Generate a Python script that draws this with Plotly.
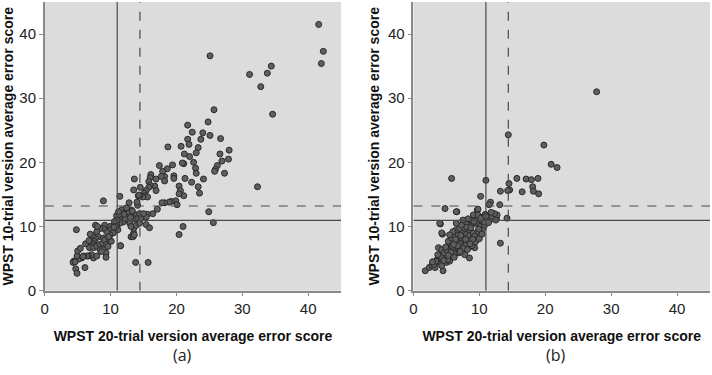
import plotly.graph_objects as go

# ---------------- data ----------------
# Panel (a)
a_x = [41.6, 42.3, 42.0, 25.1, 31.1, 33.8, 34.4, 32.8, 34.6, 25.7, 32.3, 24.8, 25.1, 26.7, 28.0,
       27.9, 26.6, 26.9, 26.2, 25.9, 25.8, 27.3, 21.7, 22.4, 24.0, 21.7, 23.7, 21.9, 20.7, 23.3,
       18.7, 23.0, 22.0, 21.2, 22.6, 22.9, 23.0, 21.1, 20.9, 21.3, 22.3, 24.1, 23.3, 23.5, 19.4,
       18.6, 17.9, 17.4, 19.6, 19.6, 18.2, 18.2, 17.7, 16.9, 16.1, 16.0, 15.8, 16.7, 16.9, 16.0,
       15.8, 15.4, 15.1, 15.2, 15.6, 14.9, 14.4, 13.6, 13.5, 11.4, 20.4, 20.6, 21.1, 20.4, 19.9,
       19.2, 18.9, 18.2, 17.8, 20.1, 17.1, 16.4, 15.6, 14.2, 14.1, 12.8, 15.4, 14.4, 13.6, 20.4,
       21.0, 24.9, 25.6, 13.8, 15.7, 11.5, 8.9, 14.0, 14.5, 14.3, 15.4, 15.9, 13.1, 13.5,
       11.7, 12.5, 13.1, 12.0, 11.4, 10.9, 11.8, 12.6, 13.4, 13.9, 14.4, 13.6, 14.1, 14.6, 12.4,
       11.9, 11.4, 10.9, 10.4, 9.9, 10.1, 10.6, 11.1, 10.4, 9.9, 9.4, 9.1, 8.9, 8.4, 7.9,
       7.7, 8.1, 7.7, 7.5, 7.3, 7.1, 6.9, 6.8, 7.4, 7.9, 8.4, 8.8, 8.9, 9.1, 8.6,
       8.4, 8.9, 9.4, 9.6, 9.9, 10.1, 9.3, 9.3, 7.4, 7.1, 6.6, 6.4, 5.9, 5.6, 5.1,
       4.9, 4.4, 4.3, 4.6, 5.0, 4.7, 4.9, 6.1, 7.9, 11.5, 13.4, 13.6, 13.5, 4.8, 12.9,
       13.1, 13.9, 14.4, 12.2, 11.0, 10.6, 12.8, 13.3, 12.0, 10.8, 8.0, 7.2, 6.9, 6.2, 5.4,
       9.7, 10.5, 11.3, 12.4, 13.0, 15.0, 8.6, 6.7, 5.8, 11.2]
a_y = [41.5, 37.3, 35.4, 36.6, 33.7, 33.9, 35.0, 31.8, 27.5, 28.2, 16.2, 26.3, 24.2, 23.7, 21.9,
       20.5, 21.3, 20.2, 19.5, 18.9, 18.6, 18.3, 25.8, 24.7, 24.6, 23.6, 23.6, 22.8, 22.5, 22.3,
       22.4, 21.5, 20.9, 21.3, 20.0, 19.1, 18.3, 19.8, 19.9, 17.5, 16.9, 17.4, 16.2, 15.2, 19.6,
       19.0, 18.6, 19.5, 17.9, 17.5, 17.8, 17.1, 17.8, 17.4, 18.1, 17.6, 17.0, 16.3, 15.6, 16.4,
       16.1, 15.6, 15.2, 14.8, 14.6, 14.6, 14.8, 17.4, 15.7, 14.7, 16.3, 15.6, 14.8, 15.1, 14.0,
       13.9, 13.8, 13.7, 13.7, 13.4, 12.7, 12.0, 11.9, 14.8, 13.3, 13.7, 11.5, 11.8, 11.5, 8.75,
       10.0, 12.3, 10.6, 4.4, 4.4, 7.0, 14.0, 13.8, 16.1, 14.9, 10.3, 9.8, 8.4, 9.0,
       12.6, 12.6, 12.6, 12.0, 11.8, 11.7, 11.4, 11.5, 11.8, 11.8, 12.0, 11.2, 11.2, 11.2, 11.0,
       10.7, 10.5, 10.3, 10.2, 10.0, 9.5, 9.2, 9.5, 9.0, 8.7, 9.2, 10.2, 9.7, 9.7, 9.2,
       10.2, 8.4, 8.1, 7.7, 7.4, 7.2, 6.9, 6.7, 6.7, 6.9, 7.2, 7.4, 8.2, 7.9, 6.2,
       6.4, 6.4, 7.2, 6.9, 7.9, 7.7, 5.9, 5.2, 5.1, 5.6, 5.4, 5.4, 5.4, 5.1, 4.9,
       5.4, 4.6, 4.4, 4.5, 6.2, 3.4, 2.7, 3.6, 5.4, 7.0, 8.4, 8.7, 9.7, 9.5, 10.5,
       10.0, 10.2, 10.5, 11.3, 11.0, 10.8, 12.2, 12.4, 11.9, 10.0, 10.0, 8.6, 8.8, 7.3, 6.6,
       8.4, 9.9, 11.9, 12.9, 11.4, 12.0, 6.1, 7.8, 5.3, 12.3]

# Panel (b)
b_x = [27.8, 14.4, 19.8, 20.9, 21.8, 5.8, 11.0, 15.7, 17.1, 17.9, 18.9, 18.1, 18.2, 19.0, 16.5,
       14.5, 14.6, 14.3, 13.2, 10.2, 11.7, 11.5, 13.1, 4.8, 6.6, 9.7, 14.2, 13.2, 4.1, 4.4,
       4.5, 1.8, 12.6, 12.1, 12.7, 12.5, 9.8, 9.5, 8.5,
       2.4, 2.8, 3.3, 3.0, 3.5, 3.8, 4.0, 4.3, 4.5, 5.0, 4.8, 4.0, 3.8, 4.3, 5.3,
       5.5, 5.8, 6.0, 6.5, 6.3, 6.8, 7.3, 7.8, 7.5, 8.0, 7.0, 6.5, 6.0, 5.5, 5.3,
       5.8, 6.3, 6.8, 7.3, 7.8, 8.5, 8.8, 9.3, 9.1, 8.3, 7.8, 7.3, 6.5, 6.0, 5.5,
       7.0, 7.8, 8.5, 9.1, 9.3, 9.6, 9.8, 8.8, 8.0, 9.3, 9.8, 10.1, 10.6, 10.8, 10.3,
       9.6, 8.8, 8.3, 9.1, 9.8, 10.6, 11.1, 10.8, 7.5, 7.3, 6.5, 4.3, 4.0, 6.5,
       5.0, 5.5, 3.1, 3.6, 4.2, 4.7, 5.2, 6.2, 6.9, 7.6, 8.2, 8.9, 9.4, 10.0, 10.4,
       11.3, 11.6, 11.9, 12.3, 10.9, 11.4, 9.0, 8.6, 7.1, 6.7, 5.9, 5.1, 4.6, 3.4, 2.9,
       3.7, 4.9, 5.7, 6.4, 7.2, 8.1, 9.2, 10.2, 11.0, 11.8, 9.9, 8.7, 7.9, 6.1, 5.3]
b_y = [31.0, 24.3, 22.7, 19.7, 19.2, 17.5, 17.2, 17.5, 17.4, 17.3, 17.5, 16.2, 15.5, 15.1, 15.4,
       16.7, 15.7, 15.6, 15.5, 14.7, 13.8, 13.4, 13.4, 12.8, 12.3, 12.6, 11.3, 7.4, 10.4, 8.8,
       3.1, 3.1, 11.2, 12.0, 11.8, 11.0, 12.7, 7.9, 5.1,
       3.6, 3.9, 3.6, 4.4, 4.6, 5.1, 4.4, 3.9, 4.9, 5.1, 5.6, 5.6, 6.7, 6.4, 6.2,
       5.6, 6.4, 5.6, 5.9, 6.7, 6.7, 6.2, 5.6, 6.9, 7.2, 7.4, 7.7, 7.4, 7.2, 7.7,
       8.2, 8.5, 8.7, 8.2, 7.9, 7.7, 6.9, 6.7, 7.4, 8.7, 9.0, 9.2, 9.5, 9.2, 8.7,
       9.7, 9.7, 9.5, 9.0, 8.5, 7.9, 9.2, 10.2, 10.5, 10.5, 10.5, 10.0, 9.7, 10.2, 11.0,
       11.2, 11.0, 11.2, 11.8, 11.8, 11.5, 11.2, 10.7, 11.0, 10.2, 10.5, 9.0, 10.5, 12.3,
       4.4, 4.6, 4.1, 4.8, 5.3, 5.9, 4.8, 5.2, 5.9, 6.6, 6.4, 7.0, 7.6, 8.1, 8.8,
       11.7, 11.0, 11.6, 12.0, 11.9, 10.6, 8.0, 7.3, 6.1, 7.0, 6.9, 6.3, 4.7, 4.6, 4.5,
       5.6, 6.8, 6.0, 8.0, 8.6, 9.9, 10.8, 11.3, 11.6, 12.2, 9.6, 9.8, 8.0, 7.2, 5.5]

# Cut-off reference values (solid / dashed)
a_vsolid, a_vdash = 11.0, 14.45
b_vsolid, b_vdash = 11.0, 14.4
h_solid, h_dash = 10.95, 13.2

axis_range = [0, 45]
tick_vals = [0, 10, 20, 30, 40]
x_title = "WPST 20-trial version average error score"
y_title = "WPST 10-trial version average error score"
panel_labels = ["(a)", "(b)"]

# ---------------- figure ----------------
marker = dict(size=6, color="#5f5f5f", line=dict(color="#2a2a2a", width=1))
fig = go.Figure()
fig.add_trace(go.Scatter(x=a_x, y=a_y, mode="markers", marker=marker, xaxis="x", yaxis="y",
                         showlegend=False, hoverinfo="skip"))
fig.add_trace(go.Scatter(x=b_x, y=b_y, mode="markers", marker=marker, xaxis="x2", yaxis="y2",
                         showlegend=False, hoverinfo="skip"))

ydom = [(375 - 297) / 375, (375 - 2) / 375]
common = dict(range=axis_range, tickvals=tick_vals, showgrid=False, zeroline=False,
              showline=True, linecolor="#8a8a8a", linewidth=1.5, ticks="outside", ticklen=4,
              tickcolor="#8a8a8a", tickfont=dict(family="Liberation Sans", size=15, color="#222"),
              fixedrange=True)
title_font = dict(family="Liberation Sans", size=14, color="#111", weight="bold")

fig.update_layout(
    width=712, height=375, margin=dict(l=0, r=0, t=0, b=0),
    paper_bgcolor="white", plot_bgcolor="#dcdcdc",
    xaxis=dict(domain=[41 / 712, 339 / 712], anchor="y",
               title=dict(text=x_title, font=title_font, standoff=15), **common),
    yaxis=dict(domain=ydom, anchor="x",
               title=dict(text=y_title, font=title_font, standoff=5), **common),
    xaxis2=dict(domain=[411.7 / 712, 710 / 712], anchor="y2",
                title=dict(text=x_title, font=title_font, standoff=15), **common),
    yaxis2=dict(domain=ydom, anchor="x2",
                title=dict(text=y_title, font=title_font, standoff=5), **common),
)

shapes = []
line_col = "#4a4a4a"
for xr, yr, vs, vd in [("x", "y", a_vsolid, a_vdash), ("x2", "y2", b_vsolid, b_vdash)]:
    shapes.append(dict(type="line", xref=xr, yref=yr, x0=vs, x1=vs, y0=axis_range[0], y1=axis_range[1],
                       line=dict(color=line_col, width=1.2)))
    shapes.append(dict(type="line", xref=xr, yref=yr, x0=vd, x1=vd, y0=axis_range[0], y1=axis_range[1],
                       line=dict(color=line_col, width=1.2, dash="dash")))
    shapes.append(dict(type="line", xref=xr, yref=yr, x0=axis_range[0], x1=axis_range[1], y0=h_solid, y1=h_solid,
                       line=dict(color=line_col, width=1.2)))
    shapes.append(dict(type="line", xref=xr, yref=yr, x0=axis_range[0], x1=axis_range[1], y0=h_dash, y1=h_dash,
                       line=dict(color=line_col, width=1.2, dash="dash")))
fig.update_layout(shapes=shapes)

for lbl, px in zip(panel_labels, [180, 555]):
    fig.add_annotation(text=lbl, x=px / 712, y=(375 - 363) / 375, xref="paper", yref="paper",
                       xanchor="center", yanchor="middle", showarrow=False,
                       font=dict(family="Open Sans", size=16, color="#222"))

fig.write_html("out.html")
